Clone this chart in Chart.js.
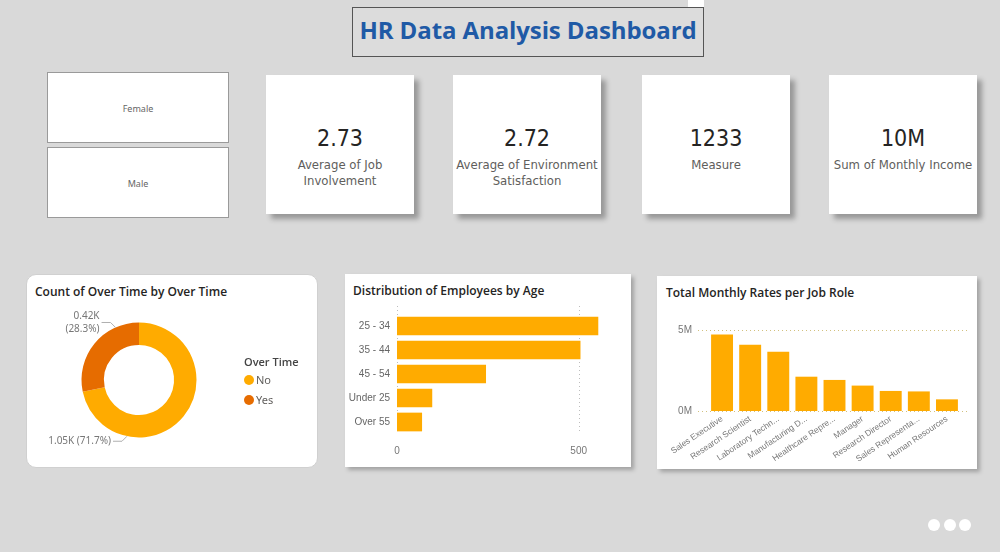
<!DOCTYPE html>
<html>
<head>
<meta charset="utf-8">
<title>HR Data Analysis Dashboard</title>
<script src="https://cdn.jsdelivr.net/npm/chart.js@4.4.0/dist/chart.umd.min.js"></script>
<style>
  body { margin: 0; width: 1000px; height: 552px; background: #d9d9d9; position: relative; overflow: hidden;
         font-family: "Noto Sans", "DejaVu Sans", sans-serif; }
  .abs { position: absolute; }
  #titleBox { left: 352px; top: 7px; width: 350px; height: 48px; border: 1px solid #555; background: #dcdcdc;
              color: #1f5aa6; font: bold 24px "Open Sans", sans-serif; text-align: center; line-height: 44px; letter-spacing: -0.1px; }
  #topTab { left: 688px; top: 0; width: 16px; height: 7px; background: #fff; }
  .slicer { left: 47px; width: 180px; height: 69px; background: #fff; border: 1px solid #9a9a9a;
            color: #666; font-size: 9px; text-align: center; line-height: 71px; }
  .card { top: 75px; width: 148px; height: 139px; background: #fff; box-shadow: 5px 5px 5px rgba(0,0,0,0.3);
          text-align: center; font-family: "Liberation Sans Narrow", "DejaVu Sans Condensed", "Roboto", sans-serif; }
  .card .val { position: absolute; left: 0; right: 0; top: 50px; font-size: 23px; color: #252423; }
  .card .lbl { position: absolute; left: 0; right: 0; top: 82px; font-size: 13px; color: #605e5c; line-height: 16px; }
  .panel { background: #fff; }
  .ptitle { font: 600 12px "Open Sans", sans-serif; color: #252423; }
  #legend { left: 244px; top: 354px; font-size: 11px; color: #605e5c; }
  #legend .head { font-weight: 600; color: #444; margin-bottom: 3px; font-family: "Open Sans", sans-serif; }
  #legend .item { height: 20px; line-height: 16px; }
  #legend .dot { display: inline-block; width: 10px; height: 10px; border-radius: 50%; vertical-align: -1px; margin-right: 2px; }
  .navdot { top: 519px; width: 12px; height: 12px; border-radius: 50%; background: #fff; }
</style>
</head>
<body>
<div id="topTab" class="abs"></div>
<div id="titleBox" class="abs">HR Data Analysis Dashboard</div>

<div id="slicers"></div>
<div id="cards"></div>

<div class="abs panel" style="left:26px;top:274px;width:290px;height:192px;border:1px solid #d0d0d0;border-radius:10px;"></div>
<div class="abs ptitle" style="left:35px;top:283px;">Count of Over Time by Over Time</div>
<canvas id="donutChart" class="abs" width="292" height="165" style="left:26px;top:300px;"></canvas>
<div id="legend" class="abs"></div>

<div class="abs panel" style="left:345px;top:274px;width:286px;height:193px;box-shadow:3px 3px 4px rgba(0,0,0,0.25);"></div>
<div class="abs ptitle" style="left:353px;top:282px;">Distribution of Employees by Age</div>
<canvas id="ageChart" class="abs" width="286" height="165" style="left:345px;top:300px;"></canvas>

<div class="abs panel" style="left:657px;top:276px;width:320px;height:193px;box-shadow:3px 3px 4px rgba(0,0,0,0.25);"></div>
<div class="abs ptitle" style="left:666px;top:284px;">Total Monthly Rates per Job Role</div>
<canvas id="jobChart" class="abs" width="320" height="169" style="left:657px;top:300px;"></canvas>

<div class="abs navdot" style="left:928px;"></div>
<div class="abs navdot" style="left:944px;"></div>
<div class="abs navdot" style="left:959px;"></div>

<script>
const genders = ["Female", "Male"];

const kpiValues = ["2.73", "2.72", "1233", "10M"];
const kpiLabels = ["Average of Job<br>Involvement", "Average of Environment<br>Satisfaction", "Measure", "Sum of Monthly Income"];
const kpiLefts = [266, 453, 642, 829];

const overTimeLabels = ["No", "Yes"];
const overTimeCounts = [1054, 416];
const overTimeColors = ["#FFAB00", "#E66C00"];

const ageGroups = ["25 - 34", "35 - 44", "45 - 54", "Under 25", "Over 55"];
const ageCounts = [554, 505, 245, 97, 69];
const ageTicks = [0, 500];

const jobRoles = ["Sales Executive", "Research Scientist", "Laboratory Techn...", "Manufacturing D...",
  "Healthcare Repre...", "Manager", "Research Director", "Sales Representa...", "Human Resources"];
const monthlyRates = [4720000, 4100000, 3660000, 2120000, 1920000, 1570000, 1240000, 1210000, 720000];
const rateTicks = [0, 5000000];

const barColor = "#FFAB00";

// slicers and cards
const slicerDiv = document.getElementById("slicers");
genders.forEach((g, i) => {
  const d = document.createElement("div");
  d.className = "abs slicer";
  d.style.top = (72 + i * 75) + "px";
  d.textContent = g;
  slicerDiv.appendChild(d);
});

const cardDiv = document.getElementById("cards");
kpiValues.forEach((v, i) => {
  const d = document.createElement("div");
  d.className = "abs card";
  d.style.left = kpiLefts[i] + "px";
  d.innerHTML = `<div class="val">${v}</div><div class="lbl">${kpiLabels[i]}</div>`;
  cardDiv.appendChild(d);
});

// legend for the doughnut
const legend = document.getElementById("legend");
legend.innerHTML = '<div class="head">Over Time</div>' + overTimeLabels.map((l, i) =>
  `<div class="item"><span class="dot" style="background:${overTimeColors[i]}"></span>${l}</div>`).join("");

// data labels with leader lines, placed left of top / bottom like Power BI does
const donutLabels = {
  id: "donutLabels",
  afterDatasetsDraw(chart) {
    const ctx = chart.ctx;
    const total = overTimeCounts.reduce((a, b) => a + b, 0);
    chart.getDatasetMeta(0).data.forEach((arc, i) => {
      const p = arc.getProps(["x", "y", "startAngle", "endAngle", "outerRadius"], true);
      const mid = (p.startAngle + p.endAngle) / 2;
      const upper = Math.sin(mid) < 0;
      let a = upper ? 1.5 * Math.PI - 0.42 : 0.5 * Math.PI + 0.21;
      while (a < p.startAngle) a += 2 * Math.PI;
      while (a > p.startAngle + 2 * Math.PI) a -= 2 * Math.PI;
      a = Math.min(a, p.endAngle);
      const ax = p.x + Math.cos(a) * p.outerRadius;
      const ay = p.y + Math.sin(a) * p.outerRadius;
      const ex = ax - 5, ey = ay + (upper ? -5 : 5);
      ctx.save();
      ctx.strokeStyle = "#b0b0b0";
      ctx.lineWidth = 1;
      ctx.beginPath();
      ctx.moveTo(ax, ay);
      ctx.lineTo(ex, ey);
      ctx.lineTo(ex - 9, ey);
      ctx.stroke();
      const v = (overTimeCounts[i] / 1000).toFixed(2) + "K";
      const pct = "(" + (overTimeCounts[i] / total * 100).toFixed(1) + "%)";
      ctx.fillStyle = "#777";
      ctx.font = "10px 'Noto Sans', sans-serif";
      ctx.textAlign = "right";
      ctx.textBaseline = "middle";
      if (upper) {
        ctx.fillText(v, ex - 11, ey - 6);
        ctx.fillText(pct, ex - 11, ey + 7);
      } else {
        ctx.fillText(v + " " + pct, ex - 11, ey);
      }
      ctx.restore();
    });
  }
};

// dotted value grid that reaches a little past the plot area, as Power BI draws it
const dottedGrid = {
  id: "dottedGrid",
  beforeDatasetsDraw(chart, args, opts) {
    const ctx = chart.ctx;
    const area = chart.chartArea;
    const scale = chart.scales[opts.axis];
    ctx.save();
    ctx.strokeStyle = opts.color;
    ctx.lineWidth = 1;
    ctx.setLineDash([1, 3]);
    opts.ticks.forEach(v => {
      const p = Math.round(scale.getPixelForValue(v)) + 0.5;
      ctx.beginPath();
      if (opts.axis === "x") {
        ctx.moveTo(p, area.top - opts.extStart);
        ctx.lineTo(p, area.bottom + opts.extEnd);
      } else {
        ctx.moveTo(area.left - opts.extStart, p);
        ctx.lineTo(area.right + opts.extEnd, p);
      }
      ctx.stroke();
    });
    ctx.restore();
  }
};

new Chart(document.getElementById("donutChart"), {
  type: "doughnut",
  data: {
    labels: overTimeLabels,
    datasets: [{ data: overTimeCounts, backgroundColor: overTimeColors, borderWidth: 0 }]
  },
  options: {
    responsive: false,
    animation: false,
    cutout: "61%",
    layout: { padding: { left: 55.5, right: 121.5, top: 22.5, bottom: 27.5 } },
    plugins: { legend: { display: false }, tooltip: { enabled: false } }
  },
  plugins: [donutLabels]
});

new Chart(document.getElementById("ageChart"), {
  type: "bar",
  data: {
    labels: ageGroups,
    datasets: [{ data: ageCounts, backgroundColor: barColor, categoryPercentage: 1, barPercentage: 0.78 }]
  },
  options: {
    indexAxis: "y",
    responsive: false,
    animation: false,
    layout: { padding: { top: 14, right: 16, left: 0, bottom: 0 } },
    plugins: {
      legend: { display: false }, tooltip: { enabled: false },
      dottedGrid: { axis: "x", ticks: ageTicks, color: "#bdbdbd", extStart: 8, extEnd: -2 }
    },
    scales: {
      x: {
        min: 0, max: 600,
        afterBuildTicks: s => { s.ticks = ageTicks.map(v => ({ value: v })); },
        afterFit: s => { s.height = 31; },
        grid: { display: false, drawTicks: false },
        border: { display: false },
        ticks: { padding: 11, color: "#777", font: { size: 10 } }
      },
      y: {
        afterFit: s => { s.width = 52; },
        grid: { display: false, drawTicks: false },
        border: { display: false },
        ticks: { padding: 7, color: "#666", font: { size: 10 } }
      }
    }
  },
  plugins: [dottedGrid]
});

new Chart(document.getElementById("jobChart"), {
  type: "bar",
  data: {
    labels: jobRoles,
    datasets: [{ data: monthlyRates, backgroundColor: barColor, categoryPercentage: 1, barPercentage: 0.78 }]
  },
  options: {
    responsive: false,
    animation: false,
    layout: { padding: { top: 18, right: 16, left: 0, bottom: 0 } },
    plugins: {
      legend: { display: false }, tooltip: { enabled: false },
      dottedGrid: { axis: "y", ticks: rateTicks, color: "#d2c07e", extStart: 10, extEnd: 9 }
    },
    scales: {
      y: {
        min: 0, max: 5500000,
        afterBuildTicks: s => { s.ticks = rateTicks.map(v => ({ value: v })); },
        afterFit: s => { s.width = 51; },
        grid: { display: false, drawTicks: false },
        border: { display: false },
        ticks: { padding: 16, color: "#777", font: { size: 10 }, callback: v => (v / 1000000) + "M" }
      },
      x: {
        afterFit: s => { s.height = 58; },
        grid: { display: false, drawTicks: false },
        border: { display: false },
        ticks: { autoSkip: false, minRotation: 34, maxRotation: 34, padding: 3, color: "#777", font: { size: 8.5 } }
      }
    }
  },
  plugins: [dottedGrid]
});
</script>
</body>
</html>
